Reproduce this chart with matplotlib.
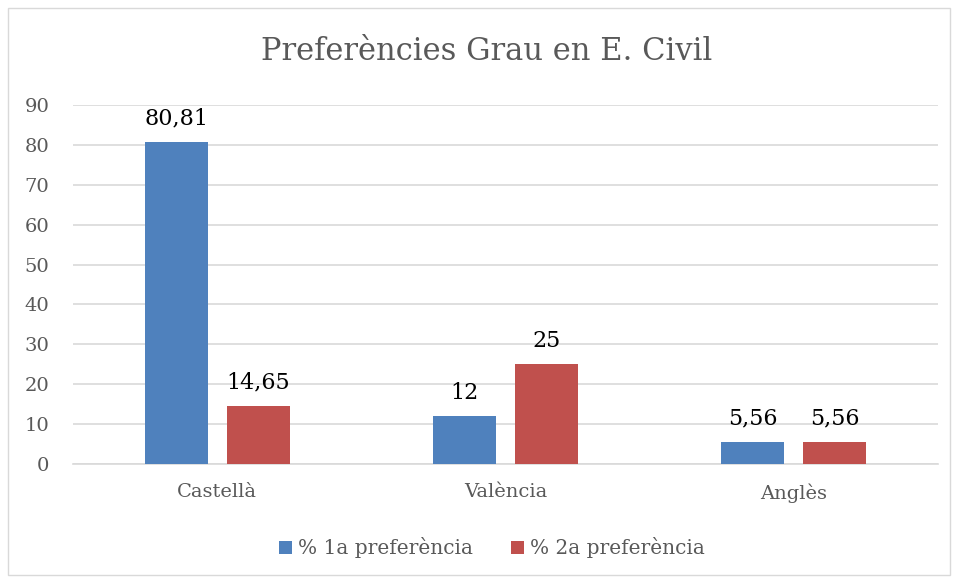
import matplotlib
matplotlib.use("Agg")
import matplotlib.pyplot as plt
import numpy as np
from matplotlib.patches import Rectangle

categories = ["Castellà", "València", "Anglès"]
series_names = ["% 1a preferència", "% 2a preferència"]
pref1 = [80.81, 12, 5.56]
pref2 = [14.65, 25, 5.56]
labels1 = ["80,81", "12", "5,56"]
labels2 = ["14,65", "25", "5,56"]
yticks = [0, 10, 20, 30, 40, 50, 60, 70, 80, 90]
title = "Preferències Grau en E. Civil"

colors = ["#4f81bd", "#c0504d"]
gray = "#595959"
plt.rcParams['font.family'] = ['DejaVu Serif']

W, H = 956, 579
fig = plt.figure(figsize=(W/100, H/100), dpi=100)
fig.patch.set_facecolor("white")
fig.add_artist(Rectangle((8/W, 4/H), 942/W, 567/H, transform=fig.transFigure,
                         fill=False, edgecolor="#d9d9d9", lw=1))

ax = fig.add_axes([73/W, 1-464/H, (938-73)/W, (464-105)/H])
x = np.arange(len(categories))
bw = 0.219
off = 0.142
b1 = ax.bar(x - off, pref1, bw, color=colors[0], label=series_names[0], zorder=3)
b2 = ax.bar(x + off, pref2, bw, color=colors[1], label=series_names[1], zorder=3)
for bars, labs in ((b1, labels1), (b2, labels2)):
    for r, t in zip(bars, labs):
        ax.annotate(t, (r.get_x() + r.get_width()/2, r.get_height()),
                    xytext=(0, 9), textcoords="offset points",
                    ha="center", va="bottom", fontsize=16, color="black")

ax.set_xlim(-0.5, 2.5)
ax.set_ylim(0, 90)
ax.set_yticks(yticks)
ax.yaxis.grid(True, color="#d9d9d9", lw=1.2, zorder=0)
ax.set_axisbelow(True)
for s in ["top", "right", "left"]:
    ax.spines[s].set_visible(False)
ax.spines["bottom"].set_color("#d9d9d9")
ax.spines["bottom"].set_linewidth(1.2)
ax.tick_params(axis="both", length=0, colors=gray, labelsize=14)
ax.tick_params(axis="x", pad=14)
ax.tick_params(axis="y", pad=17)
ax.set_xticks(x)
ax.set_xticklabels(categories)

fig.text(487/W, 1-52/H, title, ha="center", va="center", fontsize=22, color=gray)

leg = fig.legend(handles=[b1, b2], labels=series_names, loc="center",
                 bbox_to_anchor=(492/W, 1-548/H), ncol=2, frameon=False,
                 fontsize=14.5, handlelength=0.65, handleheight=0.65,
                 handletextpad=0.3, columnspacing=1.9)
for t in leg.get_texts():
    t.set_color(gray)

fig.savefig("out.png", dpi=100)
